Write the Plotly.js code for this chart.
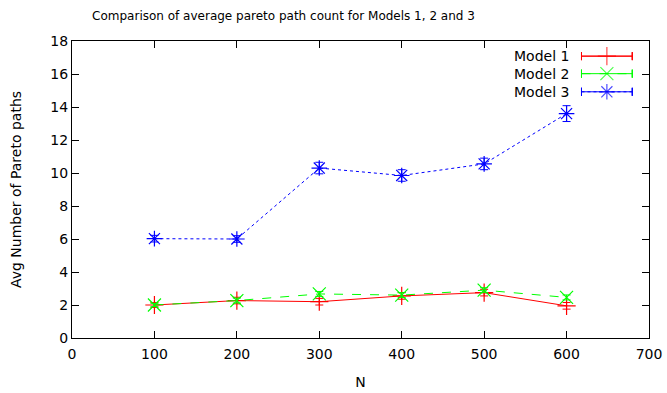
<!DOCTYPE html>
<html>
<head>
<meta charset="utf-8">
<script src="https://cdn.plot.ly/plotly-3.0.1.min.js"></script>
<style>html,body{margin:0;padding:0;background:#fff;}#chart{width:667px;height:393px;}</style>
</head>
<body>
<div id="chart"></div>
<script>
const N = [100, 200, 300, 400, 500, 600];
const model1 = [2.0, 2.27, 2.2, 2.55, 2.75, 1.95];
const model1Err = [0.15, 0.2, 0.2, 0.2, 0.2, 0.2];
const model2 = [2.0, 2.27, 2.67, 2.6, 2.9, 2.46];
const model2Err = [0.1, 0.15, 0.15, 0.15, 0.15, 0.15];
const model3 = [6.02, 6.0, 10.3, 9.85, 10.55, 13.6];
const model3Err = [0.2, 0.2, 0.35, 0.35, 0.35, 0.48];
const seriesNames = ['Model 1', 'Model 2', 'Model 3'];
const colors = ['#ff0000', '#00ff00', '#0000ff'];
const dashes = ['solid', 'dash', 'dot'];
const symbols = ['cross-thin-open', 'x-thin-open', 'asterisk-open'];

const FONT = 'DejaVu Sans, sans-serif';
const data = [];
const ys = [model1, model2, model3];
const errs = [model1Err, model2Err, model3Err];
for (let i = 0; i < 3; i++) {
  data.push({
    x: N, y: ys[i], type: 'scatter', mode: 'lines+markers', name: seriesNames[i],
    line: {color: colors[i], width: 1, dash: dashes[i]},
    marker: {symbol: symbols[i], size: 13, color: colors[i], line: {color: colors[i], width: 1.2}},
    error_y: {type: 'data', array: errs[i], visible: true, color: colors[i], thickness: 1, width: 4},
    showlegend: false
  });
}
// gnuplot-style legend (text left, sample right) on an overlay axis spanning the plot area
const legY = [0.949, 0.890, 0.829];
const annotations = [];
for (let i = 0; i < 3; i++) {
  data.push({
    x: [0.883, 0.927, 0.971], y: [legY[i], legY[i], legY[i]],
    xaxis: 'x2', yaxis: 'y2', type: 'scatter', mode: 'lines+markers', showlegend: false, hoverinfo: 'skip',
    line: {color: colors[i], width: 1, dash: dashes[i]},
    marker: {symbol: symbols[i], size: [0, 13, 0], color: colors[i], line: {color: colors[i], width: 1.2}},
    error_x: {type: 'data', array: [0, 0.044, 0], visible: true, color: colors[i], thickness: 1, width: 4}
  });
  annotations.push({
    xref: 'paper', yref: 'paper', x: 0.865, y: legY[i], xanchor: 'right', yanchor: 'middle',
    text: seriesNames[i], showarrow: false, font: {family: FONT, size: 14, color: '#000'}
  });
}

const axisCommon = {
  showgrid: false, zeroline: false, showline: true, linecolor: '#000', linewidth: 1,
  mirror: 'allticks', ticks: 'inside', ticklen: 7, tickcolor: '#000', tickwidth: 1,
  tickfont: {family: FONT, size: 14, color: '#000'}
};
const layout = {
  width: 667, height: 393,
  margin: {l: 72, r: 18, t: 41, b: 55},
  paper_bgcolor: '#fff', plot_bgcolor: '#fff',
  showlegend: false,
  title: {text: 'Comparison of average pareto path count for Models 1, 2 and 3', x: 0.425, xanchor: 'center', y: 0.96, yanchor: 'middle', font: {family: FONT, size: 12, color: '#000'}},
  xaxis: Object.assign({}, axisCommon, {range: [0, 700], dtick: 100, tick0: 0, ticklabelstandoff: 3,
    title: {text: 'N', font: {family: FONT, size: 14, color: '#000'}, standoff: 16}}),
  yaxis: Object.assign({}, axisCommon, {range: [0, 18], dtick: 2, tick0: 0,
    title: {text: 'Avg Number of Pareto paths', font: {family: FONT, size: 14, color: '#000'}, standoff: 25}}),
  xaxis2: {overlaying: 'x', range: [0, 1], visible: false, fixedrange: true},
  yaxis2: {overlaying: 'y', range: [0, 1], visible: false, fixedrange: true},
  annotations: annotations
};
Plotly.newPlot('chart', data, layout, {displayModeBar: false, staticPlot: true});
</script>
</body>
</html>
